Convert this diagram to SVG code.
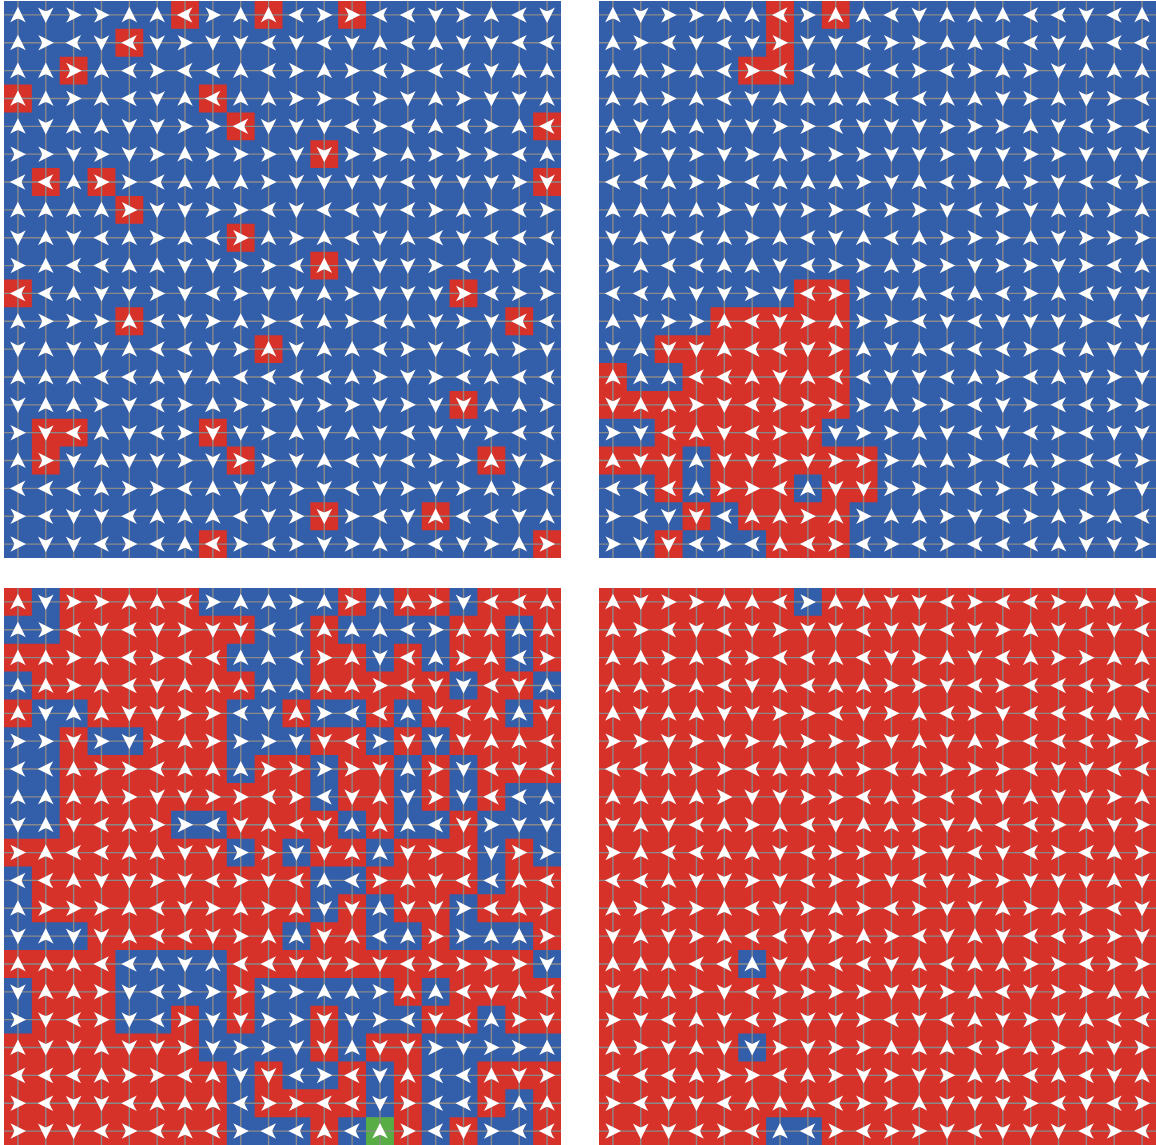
<svg xmlns="http://www.w3.org/2000/svg" xmlns:xlink="http://www.w3.org/1999/xlink" width="1156" height="1145" viewBox="0 0 1156 1145">
<style>
.blue{fill:#335eaa}.red{fill:#d7322a}.green{fill:#58ad44}
.grid{fill:none;stroke:#8a8a8a;stroke-width:0.05}
.arrows{fill:#ffffff}
</style>
<defs>
<path id="R" d="M.79,.5L.23,.22Q.33,.38 .37,.5Q.33,.62 .23,.78Z"/>
<path id="L" transform="rotate(180 .5 .5)" d="M.79,.5L.23,.22Q.33,.38 .37,.5Q.33,.62 .23,.78Z"/>
<path id="U" transform="rotate(-90 .5 .5)" d="M.79,.5L.23,.22Q.33,.38 .37,.5Q.33,.62 .23,.78Z"/>
<path id="D" transform="rotate(90 .5 .5)" d="M.79,.5L.23,.22Q.33,.38 .37,.5Q.33,.62 .23,.78Z"/>
<path id="grid" d="M.5,0V20M1.5,0V20M2.5,0V20M3.5,0V20M4.5,0V20M5.5,0V20M6.5,0V20M7.5,0V20M8.5,0V20M9.5,0V20M10.5,0V20M11.5,0V20M12.5,0V20M13.5,0V20M14.5,0V20M15.5,0V20M16.5,0V20M17.5,0V20M18.5,0V20M19.5,0V20M0,.5H20M0,1.5H20M0,2.5H20M0,3.5H20M0,4.5H20M0,5.5H20M0,6.5H20M0,7.5H20M0,8.5H20M0,9.5H20M0,10.5H20M0,11.5H20M0,12.5H20M0,13.5H20M0,14.5H20M0,15.5H20M0,16.5H20M0,17.5H20M0,18.5H20M0,19.5H20"/>
</defs>
<rect width="1156" height="1145" fill="#ffffff"/>

<g id="panel1" transform="translate(4,1) scale(27.85)">
<rect class="blue" width="20" height="20"/>
<path class="red" d="M6,0h1v1h-1zM9,0h1v1h-1zM12,0h1v1h-1zM4,1h1v1h-1zM2,2h1v1h-1zM0,3h1v1h-1zM7,3h1v1h-1zM8,4h1v1h-1zM19,4h1v1h-1zM11,5h1v1h-1zM1,6h1v1h-1zM3,6h1v1h-1zM19,6h1v1h-1zM4,7h1v1h-1zM8,8h1v1h-1zM11,9h1v1h-1zM0,10h1v1h-1zM16,10h1v1h-1zM4,11h1v1h-1zM18,11h1v1h-1zM9,12h1v1h-1zM16,14h1v1h-1zM1,15h2v1h-2zM7,15h1v1h-1zM1,16h1v1h-1zM8,16h1v1h-1zM17,16h1v1h-1zM11,18h1v1h-1zM15,18h1v1h-1zM7,19h1v1h-1zM19,19h1v1h-1z"/>
<use href="#grid" class="grid"/>
<g class="arrows">
<g><use href="#U"/><use href="#D" x="1"/><use href="#R" x="2"/><use href="#R" x="3"/><use href="#U" x="4"/><use href="#U" x="5"/><use href="#L" x="6"/><use href="#R" x="7"/><use href="#U" x="8"/><use href="#U" x="9"/><use href="#L" x="10"/><use href="#R" x="11"/><use href="#R" x="12"/><use href="#L" x="13"/><use href="#L" x="14"/><use href="#D" x="15"/><use href="#R" x="16"/><use href="#U" x="17"/><use href="#L" x="18"/><use href="#D" x="19"/></g>
<g transform="translate(0,1)"><use href="#U"/><use href="#R" x="1"/><use href="#L" x="2"/><use href="#D" x="3"/><use href="#L" x="4"/><use href="#D" x="5"/><use href="#R" x="6"/><use href="#D" x="7"/><use href="#D" x="8"/><use href="#L" x="9"/><use href="#D" x="10"/><use href="#L" x="11"/><use href="#D" x="12"/><use href="#U" x="13"/><use href="#L" x="14"/><use href="#U" x="15"/><use href="#D" x="16"/><use href="#D" x="17"/><use href="#L" x="18"/><use href="#L" x="19"/></g>
<g transform="translate(0,2)"><use href="#U"/><use href="#U" x="1"/><use href="#R" x="2"/><use href="#U" x="3"/><use href="#L" x="4"/><use href="#R" x="5"/><use href="#L" x="6"/><use href="#L" x="7"/><use href="#U" x="8"/><use href="#L" x="9"/><use href="#R" x="10"/><use href="#U" x="11"/><use href="#R" x="12"/><use href="#L" x="13"/><use href="#R" x="14"/><use href="#L" x="15"/><use href="#L" x="16"/><use href="#D" x="17"/><use href="#U" x="18"/><use href="#U" x="19"/></g>
<g transform="translate(0,3)"><use href="#U"/><use href="#U" x="1"/><use href="#R" x="2"/><use href="#U" x="3"/><use href="#L" x="4"/><use href="#D" x="5"/><use href="#U" x="6"/><use href="#L" x="7"/><use href="#U" x="8"/><use href="#U" x="9"/><use href="#R" x="10"/><use href="#R" x="11"/><use href="#L" x="12"/><use href="#R" x="13"/><use href="#D" x="14"/><use href="#U" x="15"/><use href="#R" x="16"/><use href="#D" x="17"/><use href="#D" x="18"/><use href="#U" x="19"/></g>
<g transform="translate(0,4)"><use href="#U"/><use href="#D" x="1"/><use href="#U" x="2"/><use href="#U" x="3"/><use href="#D" x="4"/><use href="#D" x="5"/><use href="#R" x="6"/><use href="#R" x="7"/><use href="#L" x="8"/><use href="#D" x="9"/><use href="#D" x="10"/><use href="#D" x="11"/><use href="#L" x="12"/><use href="#R" x="13"/><use href="#L" x="14"/><use href="#U" x="15"/><use href="#L" x="16"/><use href="#R" x="17"/><use href="#U" x="18"/><use href="#L" x="19"/></g>
<g transform="translate(0,5)"><use href="#R"/><use href="#R" x="1"/><use href="#D" x="2"/><use href="#R" x="3"/><use href="#D" x="4"/><use href="#R" x="5"/><use href="#U" x="6"/><use href="#R" x="7"/><use href="#R" x="8"/><use href="#R" x="9"/><use href="#D" x="10"/><use href="#D" x="11"/><use href="#R" x="12"/><use href="#R" x="13"/><use href="#U" x="14"/><use href="#R" x="15"/><use href="#R" x="16"/><use href="#R" x="17"/><use href="#L" x="18"/><use href="#U" x="19"/></g>
<g transform="translate(0,6)"><use href="#L"/><use href="#L" x="1"/><use href="#U" x="2"/><use href="#R" x="3"/><use href="#R" x="4"/><use href="#L" x="5"/><use href="#U" x="6"/><use href="#U" x="7"/><use href="#U" x="8"/><use href="#R" x="9"/><use href="#D" x="10"/><use href="#D" x="11"/><use href="#D" x="12"/><use href="#D" x="13"/><use href="#L" x="14"/><use href="#D" x="15"/><use href="#D" x="16"/><use href="#D" x="17"/><use href="#R" x="18"/><use href="#D" x="19"/></g>
<g transform="translate(0,7)"><use href="#U"/><use href="#U" x="1"/><use href="#U" x="2"/><use href="#U" x="3"/><use href="#R" x="4"/><use href="#D" x="5"/><use href="#D" x="6"/><use href="#R" x="7"/><use href="#R" x="8"/><use href="#L" x="9"/><use href="#D" x="10"/><use href="#L" x="11"/><use href="#L" x="12"/><use href="#D" x="13"/><use href="#L" x="14"/><use href="#R" x="15"/><use href="#U" x="16"/><use href="#R" x="17"/><use href="#L" x="18"/><use href="#R" x="19"/></g>
<g transform="translate(0,8)"><use href="#D"/><use href="#U" x="1"/><use href="#D" x="2"/><use href="#L" x="3"/><use href="#U" x="4"/><use href="#R" x="5"/><use href="#U" x="6"/><use href="#L" x="7"/><use href="#R" x="8"/><use href="#U" x="9"/><use href="#R" x="10"/><use href="#U" x="11"/><use href="#L" x="12"/><use href="#D" x="13"/><use href="#U" x="14"/><use href="#L" x="15"/><use href="#D" x="16"/><use href="#L" x="17"/><use href="#L" x="18"/><use href="#L" x="19"/></g>
<g transform="translate(0,9)"><use href="#R"/><use href="#U" x="1"/><use href="#L" x="2"/><use href="#L" x="3"/><use href="#U" x="4"/><use href="#U" x="5"/><use href="#D" x="6"/><use href="#D" x="7"/><use href="#R" x="8"/><use href="#R" x="9"/><use href="#L" x="10"/><use href="#U" x="11"/><use href="#D" x="12"/><use href="#D" x="13"/><use href="#D" x="14"/><use href="#R" x="15"/><use href="#L" x="16"/><use href="#U" x="17"/><use href="#R" x="18"/><use href="#U" x="19"/></g>
<g transform="translate(0,10)"><use href="#L"/><use href="#L" x="1"/><use href="#U" x="2"/><use href="#D" x="3"/><use href="#D" x="4"/><use href="#R" x="5"/><use href="#D" x="6"/><use href="#L" x="7"/><use href="#R" x="8"/><use href="#D" x="9"/><use href="#D" x="10"/><use href="#U" x="11"/><use href="#R" x="12"/><use href="#D" x="13"/><use href="#D" x="14"/><use href="#D" x="15"/><use href="#R" x="16"/><use href="#L" x="17"/><use href="#R" x="18"/><use href="#R" x="19"/></g>
<g transform="translate(0,11)"><use href="#U"/><use href="#R" x="1"/><use href="#R" x="2"/><use href="#R" x="3"/><use href="#U" x="4"/><use href="#L" x="5"/><use href="#D" x="6"/><use href="#R" x="7"/><use href="#U" x="8"/><use href="#R" x="9"/><use href="#L" x="10"/><use href="#U" x="11"/><use href="#R" x="12"/><use href="#L" x="13"/><use href="#U" x="14"/><use href="#D" x="15"/><use href="#R" x="16"/><use href="#D" x="17"/><use href="#L" x="18"/><use href="#L" x="19"/></g>
<g transform="translate(0,12)"><use href="#D"/><use href="#U" x="1"/><use href="#D" x="2"/><use href="#D" x="3"/><use href="#U" x="4"/><use href="#L" x="5"/><use href="#L" x="6"/><use href="#D" x="7"/><use href="#R" x="8"/><use href="#U" x="9"/><use href="#D" x="10"/><use href="#U" x="11"/><use href="#U" x="12"/><use href="#L" x="13"/><use href="#R" x="14"/><use href="#D" x="15"/><use href="#L" x="16"/><use href="#U" x="17"/><use href="#R" x="18"/><use href="#D" x="19"/></g>
<g transform="translate(0,13)"><use href="#U"/><use href="#U" x="1"/><use href="#U" x="2"/><use href="#L" x="3"/><use href="#L" x="4"/><use href="#U" x="5"/><use href="#D" x="6"/><use href="#U" x="7"/><use href="#L" x="8"/><use href="#L" x="9"/><use href="#L" x="10"/><use href="#L" x="11"/><use href="#U" x="12"/><use href="#R" x="13"/><use href="#D" x="14"/><use href="#R" x="15"/><use href="#L" x="16"/><use href="#U" x="17"/><use href="#L" x="18"/><use href="#L" x="19"/></g>
<g transform="translate(0,14)"><use href="#D"/><use href="#U" x="1"/><use href="#U" x="2"/><use href="#R" x="3"/><use href="#D" x="4"/><use href="#L" x="5"/><use href="#R" x="6"/><use href="#U" x="7"/><use href="#R" x="8"/><use href="#R" x="9"/><use href="#D" x="10"/><use href="#R" x="11"/><use href="#R" x="12"/><use href="#D" x="13"/><use href="#R" x="14"/><use href="#D" x="15"/><use href="#D" x="16"/><use href="#U" x="17"/><use href="#U" x="18"/><use href="#R" x="19"/></g>
<g transform="translate(0,15)"><use href="#R"/><use href="#D" x="1"/><use href="#L" x="2"/><use href="#U" x="3"/><use href="#D" x="4"/><use href="#L" x="5"/><use href="#R" x="6"/><use href="#D" x="7"/><use href="#D" x="8"/><use href="#R" x="9"/><use href="#U" x="10"/><use href="#D" x="11"/><use href="#U" x="12"/><use href="#D" x="13"/><use href="#L" x="14"/><use href="#D" x="15"/><use href="#D" x="16"/><use href="#R" x="17"/><use href="#L" x="18"/><use href="#L" x="19"/></g>
<g transform="translate(0,16)"><use href="#U"/><use href="#R" x="1"/><use href="#D" x="2"/><use href="#U" x="3"/><use href="#D" x="4"/><use href="#D" x="5"/><use href="#R" x="6"/><use href="#D" x="7"/><use href="#R" x="8"/><use href="#R" x="9"/><use href="#D" x="10"/><use href="#U" x="11"/><use href="#L" x="12"/><use href="#D" x="13"/><use href="#L" x="14"/><use href="#R" x="15"/><use href="#R" x="16"/><use href="#U" x="17"/><use href="#D" x="18"/><use href="#R" x="19"/></g>
<g transform="translate(0,17)"><use href="#L"/><use href="#L" x="1"/><use href="#L" x="2"/><use href="#U" x="3"/><use href="#R" x="4"/><use href="#R" x="5"/><use href="#L" x="6"/><use href="#U" x="7"/><use href="#D" x="8"/><use href="#D" x="9"/><use href="#R" x="10"/><use href="#D" x="11"/><use href="#L" x="12"/><use href="#D" x="13"/><use href="#R" x="14"/><use href="#D" x="15"/><use href="#R" x="16"/><use href="#U" x="17"/><use href="#R" x="18"/><use href="#L" x="19"/></g>
<g transform="translate(0,18)"><use href="#R"/><use href="#L" x="1"/><use href="#D" x="2"/><use href="#D" x="3"/><use href="#L" x="4"/><use href="#U" x="5"/><use href="#U" x="6"/><use href="#U" x="7"/><use href="#L" x="8"/><use href="#D" x="9"/><use href="#R" x="10"/><use href="#D" x="11"/><use href="#R" x="12"/><use href="#L" x="13"/><use href="#D" x="14"/><use href="#U" x="15"/><use href="#L" x="16"/><use href="#L" x="17"/><use href="#D" x="18"/><use href="#U" x="19"/></g>
<g transform="translate(0,19)"><use href="#R"/><use href="#D" x="1"/><use href="#D" x="2"/><use href="#L" x="3"/><use href="#R" x="4"/><use href="#L" x="5"/><use href="#U" x="6"/><use href="#L" x="7"/><use href="#R" x="8"/><use href="#L" x="9"/><use href="#R" x="10"/><use href="#D" x="11"/><use href="#R" x="12"/><use href="#U" x="13"/><use href="#R" x="14"/><use href="#L" x="15"/><use href="#D" x="16"/><use href="#R" x="17"/><use href="#U" x="18"/><use href="#R" x="19"/></g>
</g>
</g>

<g id="panel2" transform="translate(599,1) scale(27.85)">
<rect class="blue" width="20" height="20"/>
<path class="red" d="M6,0h1v1h-1zM8,0h1v1h-1zM6,1h1v1h-1zM5,2h2v1h-2zM7,10h2v1h-2zM4,11h5v1h-5zM2,12h7v1h-7zM0,13h1v1h-1zM3,13h6v1h-6zM0,14h9v1h-9zM2,15h6v1h-6zM0,16h3v1h-3zM4,16h6v1h-6zM2,17h1v1h-1zM4,17h3v1h-3zM8,17h2v1h-2zM3,18h1v1h-1zM5,18h4v1h-4zM2,19h1v1h-1zM6,19h3v1h-3z"/>
<use href="#grid" class="grid"/>
<g class="arrows">
<g><use href="#U"/><use href="#D" x="1"/><use href="#R" x="2"/><use href="#R" x="3"/><use href="#U" x="4"/><use href="#U" x="5"/><use href="#L" x="6"/><use href="#R" x="7"/><use href="#U" x="8"/><use href="#U" x="9"/><use href="#L" x="10"/><use href="#D" x="11"/><use href="#U" x="12"/><use href="#U" x="13"/><use href="#U" x="14"/><use href="#L" x="15"/><use href="#L" x="16"/><use href="#D" x="17"/><use href="#L" x="18"/><use href="#U" x="19"/></g>
<g transform="translate(0,1)"><use href="#U"/><use href="#R" x="1"/><use href="#L" x="2"/><use href="#D" x="3"/><use href="#L" x="4"/><use href="#D" x="5"/><use href="#R" x="6"/><use href="#D" x="7"/><use href="#D" x="8"/><use href="#L" x="9"/><use href="#R" x="10"/><use href="#R" x="11"/><use href="#U" x="12"/><use href="#U" x="13"/><use href="#L" x="14"/><use href="#L" x="15"/><use href="#D" x="16"/><use href="#U" x="17"/><use href="#L" x="18"/><use href="#L" x="19"/></g>
<g transform="translate(0,2)"><use href="#U"/><use href="#U" x="1"/><use href="#R" x="2"/><use href="#U" x="3"/><use href="#L" x="4"/><use href="#R" x="5"/><use href="#L" x="6"/><use href="#L" x="7"/><use href="#U" x="8"/><use href="#L" x="9"/><use href="#L" x="10"/><use href="#R" x="11"/><use href="#L" x="12"/><use href="#R" x="13"/><use href="#U" x="14"/><use href="#R" x="15"/><use href="#D" x="16"/><use href="#U" x="17"/><use href="#U" x="18"/><use href="#U" x="19"/></g>
<g transform="translate(0,3)"><use href="#U"/><use href="#U" x="1"/><use href="#R" x="2"/><use href="#U" x="3"/><use href="#L" x="4"/><use href="#D" x="5"/><use href="#U" x="6"/><use href="#U" x="7"/><use href="#U" x="8"/><use href="#U" x="9"/><use href="#L" x="10"/><use href="#L" x="11"/><use href="#U" x="12"/><use href="#U" x="13"/><use href="#D" x="14"/><use href="#R" x="15"/><use href="#U" x="16"/><use href="#D" x="17"/><use href="#R" x="18"/><use href="#L" x="19"/></g>
<g transform="translate(0,4)"><use href="#U"/><use href="#D" x="1"/><use href="#U" x="2"/><use href="#U" x="3"/><use href="#D" x="4"/><use href="#D" x="5"/><use href="#R" x="6"/><use href="#R" x="7"/><use href="#L" x="8"/><use href="#D" x="9"/><use href="#D" x="10"/><use href="#D" x="11"/><use href="#R" x="12"/><use href="#R" x="13"/><use href="#R" x="14"/><use href="#U" x="15"/><use href="#D" x="16"/><use href="#L" x="17"/><use href="#R" x="18"/><use href="#L" x="19"/></g>
<g transform="translate(0,5)"><use href="#R"/><use href="#R" x="1"/><use href="#D" x="2"/><use href="#R" x="3"/><use href="#D" x="4"/><use href="#R" x="5"/><use href="#U" x="6"/><use href="#R" x="7"/><use href="#R" x="8"/><use href="#R" x="9"/><use href="#D" x="10"/><use href="#D" x="11"/><use href="#R" x="12"/><use href="#D" x="13"/><use href="#D" x="14"/><use href="#R" x="15"/><use href="#R" x="16"/><use href="#D" x="17"/><use href="#D" x="18"/><use href="#D" x="19"/></g>
<g transform="translate(0,6)"><use href="#L"/><use href="#L" x="1"/><use href="#U" x="2"/><use href="#R" x="3"/><use href="#R" x="4"/><use href="#L" x="5"/><use href="#U" x="6"/><use href="#U" x="7"/><use href="#U" x="8"/><use href="#R" x="9"/><use href="#D" x="10"/><use href="#U" x="11"/><use href="#L" x="12"/><use href="#R" x="13"/><use href="#U" x="14"/><use href="#R" x="15"/><use href="#D" x="16"/><use href="#L" x="17"/><use href="#L" x="18"/><use href="#R" x="19"/></g>
<g transform="translate(0,7)"><use href="#U"/><use href="#U" x="1"/><use href="#U" x="2"/><use href="#U" x="3"/><use href="#R" x="4"/><use href="#D" x="5"/><use href="#D" x="6"/><use href="#R" x="7"/><use href="#R" x="8"/><use href="#L" x="9"/><use href="#R" x="10"/><use href="#R" x="11"/><use href="#D" x="12"/><use href="#L" x="13"/><use href="#R" x="14"/><use href="#D" x="15"/><use href="#U" x="16"/><use href="#U" x="17"/><use href="#R" x="18"/><use href="#U" x="19"/></g>
<g transform="translate(0,8)"><use href="#D"/><use href="#U" x="1"/><use href="#D" x="2"/><use href="#L" x="3"/><use href="#U" x="4"/><use href="#R" x="5"/><use href="#U" x="6"/><use href="#L" x="7"/><use href="#D" x="8"/><use href="#U" x="9"/><use href="#L" x="10"/><use href="#U" x="11"/><use href="#R" x="12"/><use href="#R" x="13"/><use href="#R" x="14"/><use href="#U" x="15"/><use href="#D" x="16"/><use href="#R" x="17"/><use href="#R" x="18"/><use href="#R" x="19"/></g>
<g transform="translate(0,9)"><use href="#R"/><use href="#U" x="1"/><use href="#L" x="2"/><use href="#L" x="3"/><use href="#U" x="4"/><use href="#U" x="5"/><use href="#D" x="6"/><use href="#L" x="7"/><use href="#R" x="8"/><use href="#R" x="9"/><use href="#U" x="10"/><use href="#R" x="11"/><use href="#R" x="12"/><use href="#D" x="13"/><use href="#R" x="14"/><use href="#R" x="15"/><use href="#D" x="16"/><use href="#R" x="17"/><use href="#L" x="18"/><use href="#U" x="19"/></g>
<g transform="translate(0,10)"><use href="#L"/><use href="#L" x="1"/><use href="#U" x="2"/><use href="#D" x="3"/><use href="#D" x="4"/><use href="#R" x="5"/><use href="#D" x="6"/><use href="#L" x="7"/><use href="#R" x="8"/><use href="#R" x="9"/><use href="#D" x="10"/><use href="#U" x="11"/><use href="#L" x="12"/><use href="#U" x="13"/><use href="#L" x="14"/><use href="#R" x="15"/><use href="#U" x="16"/><use href="#L" x="17"/><use href="#D" x="18"/><use href="#D" x="19"/></g>
<g transform="translate(0,11)"><use href="#U"/><use href="#D" x="1"/><use href="#R" x="2"/><use href="#R" x="3"/><use href="#U" x="4"/><use href="#L" x="5"/><use href="#D" x="6"/><use href="#R" x="7"/><use href="#U" x="8"/><use href="#R" x="9"/><use href="#R" x="10"/><use href="#L" x="11"/><use href="#D" x="12"/><use href="#L" x="13"/><use href="#D" x="14"/><use href="#D" x="15"/><use href="#D" x="16"/><use href="#R" x="17"/><use href="#L" x="18"/><use href="#D" x="19"/></g>
<g transform="translate(0,12)"><use href="#D"/><use href="#U" x="1"/><use href="#D" x="2"/><use href="#D" x="3"/><use href="#U" x="4"/><use href="#L" x="5"/><use href="#L" x="6"/><use href="#D" x="7"/><use href="#R" x="8"/><use href="#U" x="9"/><use href="#D" x="10"/><use href="#U" x="11"/><use href="#L" x="12"/><use href="#L" x="13"/><use href="#L" x="14"/><use href="#R" x="15"/><use href="#L" x="16"/><use href="#U" x="17"/><use href="#D" x="18"/><use href="#D" x="19"/></g>
<g transform="translate(0,13)"><use href="#U"/><use href="#U" x="1"/><use href="#U" x="2"/><use href="#L" x="3"/><use href="#L" x="4"/><use href="#U" x="5"/><use href="#D" x="6"/><use href="#U" x="7"/><use href="#L" x="8"/><use href="#L" x="9"/><use href="#D" x="10"/><use href="#D" x="11"/><use href="#L" x="12"/><use href="#U" x="13"/><use href="#R" x="14"/><use href="#L" x="15"/><use href="#U" x="16"/><use href="#D" x="17"/><use href="#R" x="18"/><use href="#D" x="19"/></g>
<g transform="translate(0,14)"><use href="#D"/><use href="#U" x="1"/><use href="#U" x="2"/><use href="#R" x="3"/><use href="#D" x="4"/><use href="#L" x="5"/><use href="#R" x="6"/><use href="#R" x="7"/><use href="#R" x="8"/><use href="#R" x="9"/><use href="#U" x="10"/><use href="#R" x="11"/><use href="#R" x="12"/><use href="#L" x="13"/><use href="#D" x="14"/><use href="#R" x="15"/><use href="#L" x="16"/><use href="#L" x="17"/><use href="#R" x="18"/><use href="#R" x="19"/></g>
<g transform="translate(0,15)"><use href="#R"/><use href="#D" x="1"/><use href="#L" x="2"/><use href="#U" x="3"/><use href="#D" x="4"/><use href="#L" x="5"/><use href="#R" x="6"/><use href="#D" x="7"/><use href="#D" x="8"/><use href="#R" x="9"/><use href="#R" x="10"/><use href="#U" x="11"/><use href="#D" x="12"/><use href="#L" x="13"/><use href="#D" x="14"/><use href="#L" x="15"/><use href="#R" x="16"/><use href="#L" x="17"/><use href="#D" x="18"/><use href="#D" x="19"/></g>
<g transform="translate(0,16)"><use href="#U"/><use href="#D" x="1"/><use href="#D" x="2"/><use href="#U" x="3"/><use href="#D" x="4"/><use href="#D" x="5"/><use href="#R" x="6"/><use href="#D" x="7"/><use href="#R" x="8"/><use href="#R" x="9"/><use href="#R" x="10"/><use href="#U" x="11"/><use href="#U" x="12"/><use href="#R" x="13"/><use href="#L" x="14"/><use href="#U" x="15"/><use href="#R" x="16"/><use href="#L" x="17"/><use href="#L" x="18"/><use href="#R" x="19"/></g>
<g transform="translate(0,17)"><use href="#L"/><use href="#L" x="1"/><use href="#L" x="2"/><use href="#U" x="3"/><use href="#R" x="4"/><use href="#R" x="5"/><use href="#L" x="6"/><use href="#U" x="7"/><use href="#D" x="8"/><use href="#D" x="9"/><use href="#R" x="10"/><use href="#R" x="11"/><use href="#U" x="12"/><use href="#L" x="13"/><use href="#R" x="14"/><use href="#L" x="15"/><use href="#R" x="16"/><use href="#L" x="17"/><use href="#R" x="18"/><use href="#D" x="19"/></g>
<g transform="translate(0,18)"><use href="#R"/><use href="#L" x="1"/><use href="#D" x="2"/><use href="#D" x="3"/><use href="#L" x="4"/><use href="#U" x="5"/><use href="#U" x="6"/><use href="#R" x="7"/><use href="#U" x="8"/><use href="#R" x="9"/><use href="#U" x="10"/><use href="#U" x="11"/><use href="#R" x="12"/><use href="#D" x="13"/><use href="#L" x="14"/><use href="#R" x="15"/><use href="#U" x="16"/><use href="#R" x="17"/><use href="#U" x="18"/><use href="#L" x="19"/></g>
<g transform="translate(0,19)"><use href="#R"/><use href="#D" x="1"/><use href="#D" x="2"/><use href="#L" x="3"/><use href="#R" x="4"/><use href="#L" x="5"/><use href="#U" x="6"/><use href="#L" x="7"/><use href="#R" x="8"/><use href="#L" x="9"/><use href="#R" x="10"/><use href="#L" x="11"/><use href="#R" x="12"/><use href="#L" x="13"/><use href="#L" x="14"/><use href="#L" x="15"/><use href="#U" x="16"/><use href="#D" x="17"/><use href="#D" x="18"/><use href="#R" x="19"/></g>
</g>
</g>

<g id="panel3" transform="translate(4,588) scale(27.85)">
<rect class="blue" width="20" height="20"/>
<path class="red" d="M0,0h1v1h-1zM2,0h5v1h-5zM12,0h1v1h-1zM14,0h2v1h-2zM17,0h3v1h-3zM2,1h7v1h-7zM11,1h1v1h-1zM16,1h2v1h-2zM19,1h1v1h-1zM0,2h8v1h-8zM11,2h2v1h-2zM14,2h1v1h-1zM16,2h2v1h-2zM19,2h1v1h-1zM1,3h8v1h-8zM11,3h5v1h-5zM17,3h2v1h-2zM0,4h1v1h-1zM3,4h5v1h-5zM10,4h1v1h-1zM13,4h1v1h-1zM15,4h3v1h-3zM19,4h1v1h-1zM2,5h1v1h-1zM5,5h3v1h-3zM11,5h2v1h-2zM14,5h1v1h-1zM16,5h4v1h-4zM2,6h6v1h-6zM9,6h2v1h-2zM12,6h2v1h-2zM15,6h1v1h-1zM17,6h3v1h-3zM2,7h9v1h-9zM12,7h2v1h-2zM15,7h1v1h-1zM17,7h1v1h-1zM2,8h4v1h-4zM8,8h4v1h-4zM13,8h1v1h-1zM16,8h1v1h-1zM0,9h8v1h-8zM9,9h1v1h-1zM11,9h2v1h-2zM14,9h3v1h-3zM18,9h1v1h-1zM1,10h10v1h-10zM13,10h4v1h-4zM18,10h2v1h-2zM1,11h10v1h-10zM12,11h1v1h-1zM14,11h2v1h-2zM17,11h3v1h-3zM3,12h7v1h-7zM11,12h2v1h-2zM15,12h1v1h-1zM19,12h1v1h-1zM0,13h4v1h-4zM8,13h11v1h-11zM1,14h3v1h-3zM8,14h1v1h-1zM14,14h1v1h-1zM16,14h4v1h-4zM1,15h3v1h-3zM6,15h1v1h-1zM8,15h1v1h-1zM11,15h1v1h-1zM15,15h2v1h-2zM18,15h2v1h-2zM0,16h7v1h-7zM11,16h1v1h-1zM13,16h2v1h-2zM0,17h8v1h-8zM9,17h1v1h-1zM12,17h1v1h-1zM14,17h1v1h-1zM17,17h3v1h-3zM0,18h8v1h-8zM9,18h4v1h-4zM14,18h1v1h-1zM17,18h1v1h-1zM19,18h1v1h-1zM0,19h8v1h-8zM11,19h1v1h-1zM14,19h1v1h-1zM16,19h1v1h-1zM19,19h1v1h-1z"/>
<rect class="green" x="13" y="19" width="1" height="1"/>
<use href="#grid" class="grid"/>
<g class="arrows">
<g><use href="#U"/><use href="#D" x="1"/><use href="#R" x="2"/><use href="#R" x="3"/><use href="#U" x="4"/><use href="#U" x="5"/><use href="#L" x="6"/><use href="#R" x="7"/><use href="#U" x="8"/><use href="#U" x="9"/><use href="#R" x="10"/><use href="#U" x="11"/><use href="#R" x="12"/><use href="#U" x="13"/><use href="#U" x="14"/><use href="#R" x="15"/><use href="#D" x="16"/><use href="#L" x="17"/><use href="#L" x="18"/><use href="#U" x="19"/></g>
<g transform="translate(0,1)"><use href="#U"/><use href="#R" x="1"/><use href="#L" x="2"/><use href="#D" x="3"/><use href="#L" x="4"/><use href="#D" x="5"/><use href="#R" x="6"/><use href="#D" x="7"/><use href="#D" x="8"/><use href="#L" x="9"/><use href="#L" x="10"/><use href="#U" x="11"/><use href="#U" x="12"/><use href="#U" x="13"/><use href="#L" x="14"/><use href="#R" x="15"/><use href="#U" x="16"/><use href="#U" x="17"/><use href="#U" x="18"/><use href="#U" x="19"/></g>
<g transform="translate(0,2)"><use href="#U"/><use href="#U" x="1"/><use href="#R" x="2"/><use href="#U" x="3"/><use href="#L" x="4"/><use href="#R" x="5"/><use href="#L" x="6"/><use href="#L" x="7"/><use href="#U" x="8"/><use href="#U" x="9"/><use href="#L" x="10"/><use href="#R" x="11"/><use href="#U" x="12"/><use href="#D" x="13"/><use href="#L" x="14"/><use href="#U" x="15"/><use href="#R" x="16"/><use href="#U" x="17"/><use href="#L" x="18"/><use href="#R" x="19"/></g>
<g transform="translate(0,3)"><use href="#U"/><use href="#U" x="1"/><use href="#R" x="2"/><use href="#U" x="3"/><use href="#L" x="4"/><use href="#D" x="5"/><use href="#U" x="6"/><use href="#U" x="7"/><use href="#U" x="8"/><use href="#U" x="9"/><use href="#U" x="10"/><use href="#U" x="11"/><use href="#U" x="12"/><use href="#R" x="13"/><use href="#L" x="14"/><use href="#D" x="15"/><use href="#D" x="16"/><use href="#L" x="17"/><use href="#D" x="18"/><use href="#U" x="19"/></g>
<g transform="translate(0,4)"><use href="#U"/><use href="#D" x="1"/><use href="#U" x="2"/><use href="#U" x="3"/><use href="#D" x="4"/><use href="#D" x="5"/><use href="#R" x="6"/><use href="#R" x="7"/><use href="#L" x="8"/><use href="#D" x="9"/><use href="#U" x="10"/><use href="#R" x="11"/><use href="#L" x="12"/><use href="#L" x="13"/><use href="#U" x="14"/><use href="#D" x="15"/><use href="#L" x="16"/><use href="#U" x="17"/><use href="#U" x="18"/><use href="#D" x="19"/></g>
<g transform="translate(0,5)"><use href="#R"/><use href="#R" x="1"/><use href="#D" x="2"/><use href="#R" x="3"/><use href="#D" x="4"/><use href="#R" x="5"/><use href="#U" x="6"/><use href="#R" x="7"/><use href="#R" x="8"/><use href="#R" x="9"/><use href="#D" x="10"/><use href="#D" x="11"/><use href="#L" x="12"/><use href="#R" x="13"/><use href="#D" x="14"/><use href="#D" x="15"/><use href="#D" x="16"/><use href="#U" x="17"/><use href="#U" x="18"/><use href="#L" x="19"/></g>
<g transform="translate(0,6)"><use href="#L"/><use href="#L" x="1"/><use href="#U" x="2"/><use href="#R" x="3"/><use href="#R" x="4"/><use href="#L" x="5"/><use href="#U" x="6"/><use href="#U" x="7"/><use href="#U" x="8"/><use href="#R" x="9"/><use href="#R" x="10"/><use href="#R" x="11"/><use href="#R" x="12"/><use href="#D" x="13"/><use href="#U" x="14"/><use href="#R" x="15"/><use href="#D" x="16"/><use href="#L" x="17"/><use href="#D" x="18"/><use href="#L" x="19"/></g>
<g transform="translate(0,7)"><use href="#U"/><use href="#U" x="1"/><use href="#U" x="2"/><use href="#U" x="3"/><use href="#R" x="4"/><use href="#D" x="5"/><use href="#D" x="6"/><use href="#R" x="7"/><use href="#R" x="8"/><use href="#L" x="9"/><use href="#R" x="10"/><use href="#L" x="11"/><use href="#D" x="12"/><use href="#U" x="13"/><use href="#D" x="14"/><use href="#R" x="15"/><use href="#D" x="16"/><use href="#L" x="17"/><use href="#L" x="18"/><use href="#U" x="19"/></g>
<g transform="translate(0,8)"><use href="#D"/><use href="#U" x="1"/><use href="#D" x="2"/><use href="#L" x="3"/><use href="#U" x="4"/><use href="#R" x="5"/><use href="#R" x="6"/><use href="#L" x="7"/><use href="#D" x="8"/><use href="#U" x="9"/><use href="#L" x="10"/><use href="#D" x="11"/><use href="#U" x="12"/><use href="#U" x="13"/><use href="#U" x="14"/><use href="#L" x="15"/><use href="#D" x="16"/><use href="#R" x="17"/><use href="#D" x="18"/><use href="#D" x="19"/></g>
<g transform="translate(0,9)"><use href="#R"/><use href="#U" x="1"/><use href="#L" x="2"/><use href="#L" x="3"/><use href="#U" x="4"/><use href="#U" x="5"/><use href="#D" x="6"/><use href="#D" x="7"/><use href="#R" x="8"/><use href="#R" x="9"/><use href="#D" x="10"/><use href="#D" x="11"/><use href="#U" x="12"/><use href="#U" x="13"/><use href="#D" x="14"/><use href="#R" x="15"/><use href="#L" x="16"/><use href="#D" x="17"/><use href="#R" x="18"/><use href="#R" x="19"/></g>
<g transform="translate(0,10)"><use href="#L"/><use href="#L" x="1"/><use href="#U" x="2"/><use href="#D" x="3"/><use href="#D" x="4"/><use href="#R" x="5"/><use href="#D" x="6"/><use href="#L" x="7"/><use href="#R" x="8"/><use href="#D" x="9"/><use href="#L" x="10"/><use href="#U" x="11"/><use href="#L" x="12"/><use href="#R" x="13"/><use href="#U" x="14"/><use href="#D" x="15"/><use href="#L" x="16"/><use href="#L" x="17"/><use href="#U" x="18"/><use href="#L" x="19"/></g>
<g transform="translate(0,11)"><use href="#U"/><use href="#R" x="1"/><use href="#R" x="2"/><use href="#R" x="3"/><use href="#U" x="4"/><use href="#L" x="5"/><use href="#D" x="6"/><use href="#R" x="7"/><use href="#U" x="8"/><use href="#R" x="9"/><use href="#U" x="10"/><use href="#D" x="11"/><use href="#D" x="12"/><use href="#U" x="13"/><use href="#D" x="14"/><use href="#D" x="15"/><use href="#R" x="16"/><use href="#L" x="17"/><use href="#U" x="18"/><use href="#R" x="19"/></g>
<g transform="translate(0,12)"><use href="#D"/><use href="#U" x="1"/><use href="#D" x="2"/><use href="#D" x="3"/><use href="#U" x="4"/><use href="#L" x="5"/><use href="#L" x="6"/><use href="#D" x="7"/><use href="#R" x="8"/><use href="#U" x="9"/><use href="#U" x="10"/><use href="#D" x="11"/><use href="#U" x="12"/><use href="#L" x="13"/><use href="#U" x="14"/><use href="#R" x="15"/><use href="#R" x="16"/><use href="#U" x="17"/><use href="#U" x="18"/><use href="#R" x="19"/></g>
<g transform="translate(0,13)"><use href="#U"/><use href="#U" x="1"/><use href="#U" x="2"/><use href="#L" x="3"/><use href="#L" x="4"/><use href="#U" x="5"/><use href="#D" x="6"/><use href="#U" x="7"/><use href="#L" x="8"/><use href="#L" x="9"/><use href="#D" x="10"/><use href="#D" x="11"/><use href="#R" x="12"/><use href="#D" x="13"/><use href="#L" x="14"/><use href="#R" x="15"/><use href="#R" x="16"/><use href="#R" x="17"/><use href="#R" x="18"/><use href="#D" x="19"/></g>
<g transform="translate(0,14)"><use href="#D"/><use href="#U" x="1"/><use href="#U" x="2"/><use href="#R" x="3"/><use href="#D" x="4"/><use href="#L" x="5"/><use href="#R" x="6"/><use href="#R" x="7"/><use href="#R" x="8"/><use href="#R" x="9"/><use href="#R" x="10"/><use href="#U" x="11"/><use href="#U" x="12"/><use href="#R" x="13"/><use href="#U" x="14"/><use href="#U" x="15"/><use href="#L" x="16"/><use href="#D" x="17"/><use href="#U" x="18"/><use href="#L" x="19"/></g>
<g transform="translate(0,15)"><use href="#R"/><use href="#D" x="1"/><use href="#L" x="2"/><use href="#R" x="3"/><use href="#D" x="4"/><use href="#L" x="5"/><use href="#R" x="6"/><use href="#D" x="7"/><use href="#D" x="8"/><use href="#R" x="9"/><use href="#R" x="10"/><use href="#D" x="11"/><use href="#D" x="12"/><use href="#R" x="13"/><use href="#L" x="14"/><use href="#D" x="15"/><use href="#L" x="16"/><use href="#U" x="17"/><use href="#R" x="18"/><use href="#D" x="19"/></g>
<g transform="translate(0,16)"><use href="#U"/><use href="#D" x="1"/><use href="#D" x="2"/><use href="#U" x="3"/><use href="#D" x="4"/><use href="#D" x="5"/><use href="#R" x="6"/><use href="#D" x="7"/><use href="#R" x="8"/><use href="#R" x="9"/><use href="#D" x="10"/><use href="#D" x="11"/><use href="#U" x="12"/><use href="#D" x="13"/><use href="#D" x="14"/><use href="#R" x="15"/><use href="#D" x="16"/><use href="#R" x="17"/><use href="#R" x="18"/><use href="#U" x="19"/></g>
<g transform="translate(0,17)"><use href="#L"/><use href="#L" x="1"/><use href="#L" x="2"/><use href="#U" x="3"/><use href="#R" x="4"/><use href="#R" x="5"/><use href="#L" x="6"/><use href="#U" x="7"/><use href="#D" x="8"/><use href="#D" x="9"/><use href="#L" x="10"/><use href="#R" x="11"/><use href="#L" x="12"/><use href="#D" x="13"/><use href="#U" x="14"/><use href="#L" x="15"/><use href="#L" x="16"/><use href="#U" x="17"/><use href="#D" x="18"/><use href="#R" x="19"/></g>
<g transform="translate(0,18)"><use href="#R"/><use href="#L" x="1"/><use href="#D" x="2"/><use href="#D" x="3"/><use href="#L" x="4"/><use href="#U" x="5"/><use href="#U" x="6"/><use href="#U" x="7"/><use href="#L" x="8"/><use href="#R" x="9"/><use href="#R" x="10"/><use href="#L" x="11"/><use href="#L" x="12"/><use href="#D" x="13"/><use href="#R" x="14"/><use href="#L" x="15"/><use href="#L" x="16"/><use href="#R" x="17"/><use href="#U" x="18"/><use href="#U" x="19"/></g>
<g transform="translate(0,19)"><use href="#R"/><use href="#D" x="1"/><use href="#D" x="2"/><use href="#L" x="3"/><use href="#R" x="4"/><use href="#L" x="5"/><use href="#U" x="6"/><use href="#L" x="7"/><use href="#R" x="8"/><use href="#L" x="9"/><use href="#L" x="10"/><use href="#U" x="11"/><use href="#L" x="12"/><use href="#U" x="13"/><use href="#R" x="14"/><use href="#L" x="15"/><use href="#D" x="16"/><use href="#R" x="17"/><use href="#L" x="18"/><use href="#L" x="19"/></g>
</g>
</g>

<g id="panel4" transform="translate(599,588) scale(27.85)">
<rect class="red" width="20" height="20"/>
<path class="blue" d="M7,0h1v1h-1zM5,13h1v1h-1zM5,16h1v1h-1zM6,19h2v1h-2z"/>
<use href="#grid" class="grid"/>
<g class="arrows">
<g><use href="#U"/><use href="#D" x="1"/><use href="#R" x="2"/><use href="#R" x="3"/><use href="#U" x="4"/><use href="#U" x="5"/><use href="#L" x="6"/><use href="#R" x="7"/><use href="#U" x="8"/><use href="#U" x="9"/><use href="#D" x="10"/><use href="#D" x="11"/><use href="#L" x="12"/><use href="#R" x="13"/><use href="#L" x="14"/><use href="#L" x="15"/><use href="#R" x="16"/><use href="#U" x="17"/><use href="#U" x="18"/><use href="#R" x="19"/></g>
<g transform="translate(0,1)"><use href="#U"/><use href="#R" x="1"/><use href="#L" x="2"/><use href="#D" x="3"/><use href="#L" x="4"/><use href="#D" x="5"/><use href="#R" x="6"/><use href="#D" x="7"/><use href="#D" x="8"/><use href="#L" x="9"/><use href="#D" x="10"/><use href="#D" x="11"/><use href="#L" x="12"/><use href="#D" x="13"/><use href="#R" x="14"/><use href="#U" x="15"/><use href="#D" x="16"/><use href="#L" x="17"/><use href="#D" x="18"/><use href="#L" x="19"/></g>
<g transform="translate(0,2)"><use href="#U"/><use href="#U" x="1"/><use href="#R" x="2"/><use href="#U" x="3"/><use href="#L" x="4"/><use href="#R" x="5"/><use href="#L" x="6"/><use href="#L" x="7"/><use href="#U" x="8"/><use href="#L" x="9"/><use href="#D" x="10"/><use href="#R" x="11"/><use href="#U" x="12"/><use href="#D" x="13"/><use href="#L" x="14"/><use href="#U" x="15"/><use href="#R" x="16"/><use href="#R" x="17"/><use href="#U" x="18"/><use href="#U" x="19"/></g>
<g transform="translate(0,3)"><use href="#U"/><use href="#U" x="1"/><use href="#R" x="2"/><use href="#U" x="3"/><use href="#L" x="4"/><use href="#D" x="5"/><use href="#U" x="6"/><use href="#L" x="7"/><use href="#U" x="8"/><use href="#U" x="9"/><use href="#R" x="10"/><use href="#R" x="11"/><use href="#D" x="12"/><use href="#L" x="13"/><use href="#R" x="14"/><use href="#L" x="15"/><use href="#L" x="16"/><use href="#L" x="17"/><use href="#R" x="18"/><use href="#L" x="19"/></g>
<g transform="translate(0,4)"><use href="#U"/><use href="#D" x="1"/><use href="#U" x="2"/><use href="#U" x="3"/><use href="#D" x="4"/><use href="#D" x="5"/><use href="#R" x="6"/><use href="#R" x="7"/><use href="#L" x="8"/><use href="#D" x="9"/><use href="#R" x="10"/><use href="#U" x="11"/><use href="#L" x="12"/><use href="#R" x="13"/><use href="#D" x="14"/><use href="#L" x="15"/><use href="#L" x="16"/><use href="#L" x="17"/><use href="#U" x="18"/><use href="#U" x="19"/></g>
<g transform="translate(0,5)"><use href="#R"/><use href="#R" x="1"/><use href="#D" x="2"/><use href="#R" x="3"/><use href="#D" x="4"/><use href="#R" x="5"/><use href="#U" x="6"/><use href="#R" x="7"/><use href="#R" x="8"/><use href="#R" x="9"/><use href="#D" x="10"/><use href="#U" x="11"/><use href="#D" x="12"/><use href="#U" x="13"/><use href="#R" x="14"/><use href="#L" x="15"/><use href="#L" x="16"/><use href="#L" x="17"/><use href="#R" x="18"/><use href="#R" x="19"/></g>
<g transform="translate(0,6)"><use href="#L"/><use href="#L" x="1"/><use href="#U" x="2"/><use href="#R" x="3"/><use href="#R" x="4"/><use href="#L" x="5"/><use href="#U" x="6"/><use href="#U" x="7"/><use href="#U" x="8"/><use href="#R" x="9"/><use href="#L" x="10"/><use href="#U" x="11"/><use href="#R" x="12"/><use href="#R" x="13"/><use href="#R" x="14"/><use href="#L" x="15"/><use href="#D" x="16"/><use href="#D" x="17"/><use href="#L" x="18"/><use href="#L" x="19"/></g>
<g transform="translate(0,7)"><use href="#U"/><use href="#U" x="1"/><use href="#U" x="2"/><use href="#U" x="3"/><use href="#R" x="4"/><use href="#D" x="5"/><use href="#D" x="6"/><use href="#R" x="7"/><use href="#R" x="8"/><use href="#L" x="9"/><use href="#U" x="10"/><use href="#R" x="11"/><use href="#L" x="12"/><use href="#L" x="13"/><use href="#D" x="14"/><use href="#U" x="15"/><use href="#D" x="16"/><use href="#D" x="17"/><use href="#R" x="18"/><use href="#U" x="19"/></g>
<g transform="translate(0,8)"><use href="#D"/><use href="#U" x="1"/><use href="#D" x="2"/><use href="#L" x="3"/><use href="#U" x="4"/><use href="#R" x="5"/><use href="#U" x="6"/><use href="#L" x="7"/><use href="#D" x="8"/><use href="#U" x="9"/><use href="#U" x="10"/><use href="#R" x="11"/><use href="#D" x="12"/><use href="#U" x="13"/><use href="#L" x="14"/><use href="#L" x="15"/><use href="#R" x="16"/><use href="#U" x="17"/><use href="#D" x="18"/><use href="#R" x="19"/></g>
<g transform="translate(0,9)"><use href="#R"/><use href="#U" x="1"/><use href="#L" x="2"/><use href="#L" x="3"/><use href="#U" x="4"/><use href="#U" x="5"/><use href="#D" x="6"/><use href="#L" x="7"/><use href="#R" x="8"/><use href="#R" x="9"/><use href="#D" x="10"/><use href="#R" x="11"/><use href="#D" x="12"/><use href="#L" x="13"/><use href="#D" x="14"/><use href="#L" x="15"/><use href="#R" x="16"/><use href="#L" x="17"/><use href="#U" x="18"/><use href="#R" x="19"/></g>
<g transform="translate(0,10)"><use href="#L"/><use href="#L" x="1"/><use href="#U" x="2"/><use href="#D" x="3"/><use href="#D" x="4"/><use href="#R" x="5"/><use href="#D" x="6"/><use href="#L" x="7"/><use href="#R" x="8"/><use href="#R" x="9"/><use href="#D" x="10"/><use href="#L" x="11"/><use href="#D" x="12"/><use href="#R" x="13"/><use href="#R" x="14"/><use href="#D" x="15"/><use href="#D" x="16"/><use href="#D" x="17"/><use href="#U" x="18"/><use href="#D" x="19"/></g>
<g transform="translate(0,11)"><use href="#U"/><use href="#R" x="1"/><use href="#R" x="2"/><use href="#R" x="3"/><use href="#U" x="4"/><use href="#L" x="5"/><use href="#D" x="6"/><use href="#R" x="7"/><use href="#U" x="8"/><use href="#R" x="9"/><use href="#L" x="10"/><use href="#R" x="11"/><use href="#D" x="12"/><use href="#D" x="13"/><use href="#U" x="14"/><use href="#R" x="15"/><use href="#U" x="16"/><use href="#R" x="17"/><use href="#L" x="18"/><use href="#D" x="19"/></g>
<g transform="translate(0,12)"><use href="#D"/><use href="#U" x="1"/><use href="#D" x="2"/><use href="#R" x="3"/><use href="#U" x="4"/><use href="#L" x="5"/><use href="#L" x="6"/><use href="#D" x="7"/><use href="#R" x="8"/><use href="#U" x="9"/><use href="#R" x="10"/><use href="#L" x="11"/><use href="#D" x="12"/><use href="#U" x="13"/><use href="#D" x="14"/><use href="#L" x="15"/><use href="#L" x="16"/><use href="#R" x="17"/><use href="#R" x="18"/><use href="#D" x="19"/></g>
<g transform="translate(0,13)"><use href="#U"/><use href="#U" x="1"/><use href="#U" x="2"/><use href="#L" x="3"/><use href="#L" x="4"/><use href="#U" x="5"/><use href="#D" x="6"/><use href="#U" x="7"/><use href="#L" x="8"/><use href="#L" x="9"/><use href="#D" x="10"/><use href="#U" x="11"/><use href="#L" x="12"/><use href="#U" x="13"/><use href="#U" x="14"/><use href="#R" x="15"/><use href="#R" x="16"/><use href="#L" x="17"/><use href="#R" x="18"/><use href="#R" x="19"/></g>
<g transform="translate(0,14)"><use href="#D"/><use href="#U" x="1"/><use href="#U" x="2"/><use href="#R" x="3"/><use href="#D" x="4"/><use href="#L" x="5"/><use href="#R" x="6"/><use href="#R" x="7"/><use href="#R" x="8"/><use href="#R" x="9"/><use href="#D" x="10"/><use href="#D" x="11"/><use href="#R" x="12"/><use href="#U" x="13"/><use href="#L" x="14"/><use href="#D" x="15"/><use href="#R" x="16"/><use href="#R" x="17"/><use href="#U" x="18"/><use href="#U" x="19"/></g>
<g transform="translate(0,15)"><use href="#R"/><use href="#D" x="1"/><use href="#L" x="2"/><use href="#U" x="3"/><use href="#D" x="4"/><use href="#L" x="5"/><use href="#R" x="6"/><use href="#D" x="7"/><use href="#D" x="8"/><use href="#R" x="9"/><use href="#L" x="10"/><use href="#D" x="11"/><use href="#L" x="12"/><use href="#U" x="13"/><use href="#D" x="14"/><use href="#R" x="15"/><use href="#D" x="16"/><use href="#U" x="17"/><use href="#L" x="18"/><use href="#L" x="19"/></g>
<g transform="translate(0,16)"><use href="#U"/><use href="#R" x="1"/><use href="#D" x="2"/><use href="#U" x="3"/><use href="#D" x="4"/><use href="#D" x="5"/><use href="#R" x="6"/><use href="#D" x="7"/><use href="#R" x="8"/><use href="#R" x="9"/><use href="#U" x="10"/><use href="#U" x="11"/><use href="#U" x="12"/><use href="#L" x="13"/><use href="#R" x="14"/><use href="#U" x="15"/><use href="#R" x="16"/><use href="#U" x="17"/><use href="#D" x="18"/><use href="#R" x="19"/></g>
<g transform="translate(0,17)"><use href="#L"/><use href="#L" x="1"/><use href="#L" x="2"/><use href="#U" x="3"/><use href="#R" x="4"/><use href="#R" x="5"/><use href="#L" x="6"/><use href="#U" x="7"/><use href="#R" x="8"/><use href="#D" x="9"/><use href="#R" x="10"/><use href="#D" x="11"/><use href="#R" x="12"/><use href="#U" x="13"/><use href="#U" x="14"/><use href="#L" x="15"/><use href="#U" x="16"/><use href="#L" x="17"/><use href="#D" x="18"/><use href="#U" x="19"/></g>
<g transform="translate(0,18)"><use href="#R"/><use href="#L" x="1"/><use href="#D" x="2"/><use href="#D" x="3"/><use href="#L" x="4"/><use href="#U" x="5"/><use href="#U" x="6"/><use href="#U" x="7"/><use href="#L" x="8"/><use href="#R" x="9"/><use href="#R" x="10"/><use href="#U" x="11"/><use href="#D" x="12"/><use href="#D" x="13"/><use href="#D" x="14"/><use href="#R" x="15"/><use href="#L" x="16"/><use href="#D" x="17"/><use href="#L" x="18"/><use href="#R" x="19"/></g>
<g transform="translate(0,19)"><use href="#R"/><use href="#D" x="1"/><use href="#D" x="2"/><use href="#L" x="3"/><use href="#R" x="4"/><use href="#L" x="5"/><use href="#U" x="6"/><use href="#L" x="7"/><use href="#R" x="8"/><use href="#L" x="9"/><use href="#R" x="10"/><use href="#R" x="11"/><use href="#D" x="12"/><use href="#L" x="13"/><use href="#D" x="14"/><use href="#D" x="15"/><use href="#D" x="16"/><use href="#L" x="17"/><use href="#R" x="18"/><use href="#L" x="19"/></g>
</g>
</g>
</svg>
